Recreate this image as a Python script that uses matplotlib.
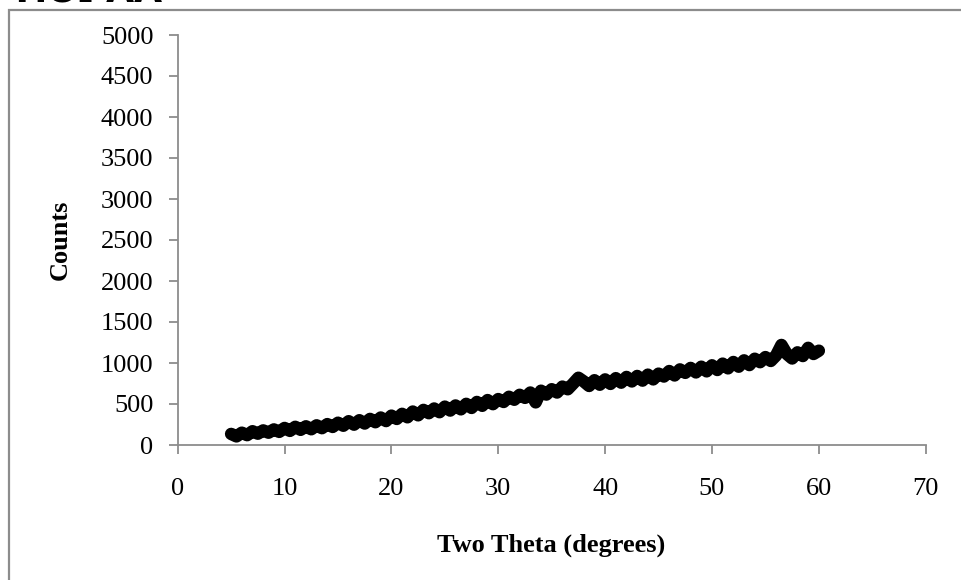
import matplotlib
matplotlib.use("Agg")
import matplotlib.pyplot as plt
from matplotlib.patches import Rectangle

# Data (2θ every 0.5°, counts)
two_theta = [5.0 + 0.5 * i for i in range(111)]
counts = [135, 105, 150, 120, 168, 138, 178, 150, 190, 160,
          208, 172, 222, 185, 228, 192, 240, 205, 255, 220,
          272, 235, 290, 248, 302, 262, 318, 278, 335, 292,
          358, 318, 380, 338, 408, 362, 428, 388, 445, 400,
          468, 420, 482, 435, 502, 452, 525, 478, 548, 498,
          560, 525, 588, 552, 612, 575, 640, 520, 662, 615,
          680, 640, 712, 680, 748, 820, 775, 720, 790, 735,
          800, 745, 815, 760, 830, 775, 842, 785, 858, 800,
          870, 835, 902, 848, 922, 880, 940, 885, 955, 898,
          972, 915, 992, 935, 1012, 955, 1032, 975, 1052, 1010,
          1072, 1025, 1092, 1220, 1110, 1055, 1130, 1085, 1185, 1110,
          1150]

x_ticks = [0, 10, 20, 30, 40, 50, 60, 70]
y_ticks = [0, 500, 1000, 1500, 2000, 2500, 3000, 3500, 4000, 4500, 5000]
title_text = "TiO\u2082 AA"
x_label = "Two Theta (degrees)"
y_label = "Counts"

W, H = 961, 580
fig = plt.figure(figsize=(W / 100, H / 100), dpi=100)
fig.patch.set_facecolor("white")

# outer frame (gray, only top and left visible)
fig.patches.append(Rectangle((9 / W, -0.1), 2.0, 1 - 10 / H + 0.1,
                             transform=fig.transFigure, fill=False,
                             edgecolor="#8c8c8c", linewidth=1.6, zorder=0))

# cropped title
fig.text(10 / W, 1 - 2 / H, title_text, fontsize=26, fontweight="bold",
         family="DejaVu Sans", va="baseline", ha="left")

ax = fig.add_axes([177.7 / W, (H - 445) / H, 748 / W, 410 / H])
ax.plot(two_theta, counts, color="black", lw=9, marker="o", ms=5,
        solid_joinstyle="round", solid_capstyle="round")

ax.set_xlim(0, 70)
ax.set_ylim(0, 5000)
ax.set_xticks(x_ticks)
ax.set_yticks(y_ticks)

serif = ["Liberation Serif", "DejaVu Serif"]
for lab in ax.get_xticklabels() + ax.get_yticklabels():
    lab.set_family(serif)
    lab.set_fontsize(19)

for s in ["top", "right"]:
    ax.spines[s].set_visible(False)
for s in ["left", "bottom"]:
    ax.spines[s].set_color("#8c8c8c")
    ax.spines[s].set_linewidth(1.3)

ax.tick_params(axis="both", direction="out", color="#8c8c8c", width=1.3,
               length=6.5, labelcolor="black")
ax.tick_params(axis="y", pad=11)
ax.tick_params(axis="x", pad=17)

ax.set_xlabel(x_label, family=serif, fontsize=19, fontweight="bold")
ax.set_ylabel(y_label, family=serif, fontsize=19, fontweight="bold")
ax.xaxis.set_label_coords(0.499, -0.244)
ax.xaxis.label.set_va("center")
ax.yaxis.set_label_coords(-0.157, 0.5)
ax.yaxis.label.set_va("center")

fig.savefig("out.png", dpi=100, facecolor="white")
